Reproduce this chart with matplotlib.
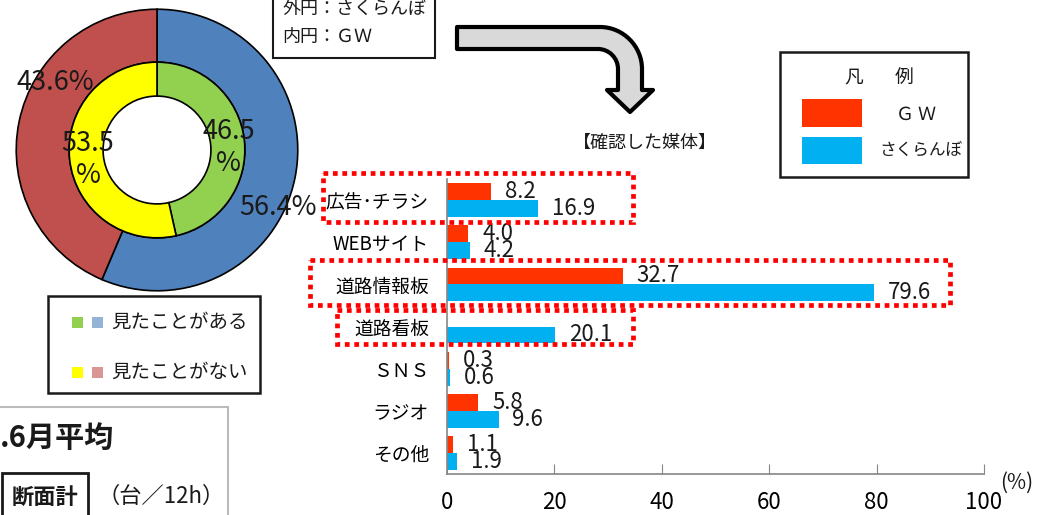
import numpy as np
import matplotlib
matplotlib.use("Agg")
import matplotlib.pyplot as plt
from matplotlib.patches import Rectangle, PathPatch
from matplotlib.path import Path

plt.rcParams['font.family'] = ['Noto Sans CJK JP', 'DejaVu Sans']

# donut data
outer_vals = [56.4, 43.6]   # さくらんぼ: 見たことがある / ない
inner_vals = [46.5, 53.5]   # GW
outer_colors = ["#4F81BD", "#C0504D"]
inner_colors = ["#92D050", "#FFFF00"]

# bar data
media = ["広告･チラシ", "WEBサイト", "道路情報板", "道路看板", "ＳＮＳ", "ラジオ", "その他"]
gw = [8.2, 4.0, 32.7, np.nan, 0.3, 5.8, 1.1]
sakuranbo = [16.9, 4.2, 79.6, 20.1, 0.6, 9.6, 1.9]
xticks = [0, 20, 40, 60, 80, 100]

W, H = 1050, 515
fig = plt.figure(figsize=(W / 100, H / 100), dpi=100)


def px_axes(x0, y0, x1, y1, **kw):
    # axes placed by pixel box (top-left origin)
    return fig.add_axes([x0 / W, 1 - y1 / H, (x1 - x0) / W, (y1 - y0) / H], **kw)


# ---- donut ----
cx, cy, R = 157, 150, 141
axd = px_axes(cx - 145, cy - 145, cx + 145, cy + 145)
wp = dict(edgecolor="black", linewidth=1.2)
axd.pie(outer_vals, radius=1.0, colors=outer_colors, startangle=90,
        counterclock=False, wedgeprops=dict(width=0.376, **wp))
axd.pie(inner_vals, radius=0.624, colors=inner_colors, startangle=90,
        counterclock=False, wedgeprops=dict(width=0.241, **wp))
axd.set_xlim(-1.03, 1.03)
axd.set_ylim(-1.03, 1.03)
axd.set_aspect("equal")
axd.axis("off")
lbl = dict(fontsize=19.5, ha="center", va="center", color="#1a1a1a")
axd.text(-0.72, 0.48, f"{outer_vals[1]}%", **lbl)
axd.text(0.86, -0.41, f"{outer_vals[0]}%", **lbl)
axd.text(0.51, 0.02, f"{inner_vals[0]}\n%", linespacing=1.25, **lbl)
axd.text(-0.49, -0.07, f"{inner_vals[1]}\n%", linespacing=1.25, **lbl)

# ---- bar chart ----
ax = px_axes(447, 179, 984, 474)
y = np.arange(len(media))
h = 0.4
ax.barh(y - h / 2, gw, height=h, color="#FF3300")
ax.barh(y + h / 2, sakuranbo, height=h, color="#00B0F0")
for yi, v in zip(y, gw):
    if not np.isnan(v):
        ax.annotate(f"{v:.1f}", (v, yi - h / 2), xytext=(10, 0), textcoords="offset points",
                    ha="left", va="center", fontsize=16, color="#1a1a1a")
for yi, v in zip(y, sakuranbo):
    ax.annotate(f"{v:.1f}", (v, yi + h / 2), xytext=(10, 0), textcoords="offset points",
                ha="left", va="center", fontsize=16, color="#1a1a1a")
ax.set_xlim(0, 100)
ax.set_ylim(len(media) - 0.5, -0.5)
ax.set_xticks(xticks)
ax.set_yticks(y)
ax.set_yticklabels(media, fontsize=13.5)
ax.tick_params(axis="y", length=0, pad=13)
ax.tick_params(axis="x", direction="in", length=7, color="#868686", pad=12,
               labelsize=16)
for s in ["top", "right"]:
    ax.spines[s].set_visible(False)
for s in ["left", "bottom"]:
    ax.spines[s].set_color("#868686")
    ax.spines[s].set_linewidth(1.2)
ax.patch.set_alpha(0)

# ---- overlay for boxes, arrow, legends ----
ov = fig.add_axes([0, 0, 1, 1], zorder=10)
ov.set_xlim(0, W)
ov.set_ylim(H, 0)
ov.axis("off")
ov.patch.set_alpha(0)
tc = "#1a1a1a"

# top note box
ov.add_patch(Rectangle((273, -5), 162, 63, facecolor="white", edgecolor=tc, lw=1.5))
ov.text(282, 9, "外円：さくらんぼ", fontsize=13, va="center", color=tc)
ov.text(282, 37, "内円：ＧＷ", fontsize=13, va="center", color=tc)

# bent arrow
verts = [(457, 27), (600, 27), (623, 27), (642, 46), (642, 69), (642, 90), (653, 90),
         (630, 112), (607, 90), (618, 90), (618, 69), (618, 58), (609, 49), (598, 49),
         (457, 49), (457, 27)]
codes = [Path.MOVETO, Path.LINETO, Path.CURVE4, Path.CURVE4, Path.CURVE4, Path.LINETO,
         Path.LINETO, Path.LINETO, Path.LINETO, Path.LINETO, Path.LINETO, Path.CURVE4,
         Path.CURVE4, Path.CURVE4, Path.LINETO, Path.CLOSEPOLY]
ov.add_patch(PathPatch(Path(verts, codes), facecolor="#D9D9D9", edgecolor="black",
                       lw=3, joinstyle="round"))

ov.text(645, 143, "【確認した媒体】", fontsize=13, ha="center", va="center", color=tc)

# bar legend
ov.add_patch(Rectangle((780, 52), 188, 125, facecolor="white", edgecolor=tc, lw=1.8))
ov.text(854, 77, "凡", fontsize=13.5, ha="center", va="center", color=tc)
ov.text(904, 77, "例", fontsize=13.5, ha="center", va="center", color=tc)
ov.add_patch(Rectangle((802, 99), 60, 28, facecolor="#FF3300", edgecolor="none"))
ov.add_patch(Rectangle((802, 137), 60, 27, facecolor="#00B0F0", edgecolor="none"))
ov.text(916, 115, "Ｇ Ｗ", fontsize=13, ha="center", va="center", color=tc)
ov.text(921, 150, "さくらんぼ", fontsize=12, ha="center", va="center", color=tc)

# red dotted highlight boxes
dot = dict(facecolor="none", edgecolor="#FF0000", lw=3.4, linestyle=(0, (1, 1)))
ov.add_patch(Rectangle((323, 173), 310, 49, **dot))
ov.add_patch(Rectangle((310, 260), 640, 45, **dot))
ov.add_patch(Rectangle((337, 310), 296, 34, **dot))

ov.text(1017, 483, "(%)", fontsize=15, ha="center", va="center", color=tc)

# donut legend
ov.add_patch(Rectangle((48, 296), 212, 97, facecolor="white", edgecolor=tc, lw=1.8))
ov.add_patch(Rectangle((72, 317), 11, 11, facecolor="#92D050", edgecolor="none"))
ov.add_patch(Rectangle((92, 317), 11, 11, facecolor="#95B3D7", edgecolor="none"))
ov.add_patch(Rectangle((72, 367), 11, 11, facecolor="#FFFF00", edgecolor="none"))
ov.add_patch(Rectangle((92, 367), 11, 11, facecolor="#D99694", edgecolor="none"))
ov.text(111, 322, "見たことがある", fontsize=14, va="center", color=tc)
ov.text(111, 372, "見たことがない", fontsize=14, va="center", color=tc)

# lower info box
ov.add_patch(Rectangle((-5, 407), 233, 120, facecolor="white", edgecolor="#BBBBBB", lw=1.5))
ov.text(0, 438, ".6月平均", fontsize=21, fontweight="bold", va="center", color=tc)
ov.add_patch(Rectangle((2, 473), 86, 50, facecolor="white", edgecolor=tc, lw=2))
ov.text(45, 497, "断面計", fontsize=16, fontweight="bold", ha="center", va="center", color=tc)
ov.text(161, 496, "（台／12h）", fontsize=16, ha="center", va="center", color=tc)

fig.savefig("out.png", dpi=100)
